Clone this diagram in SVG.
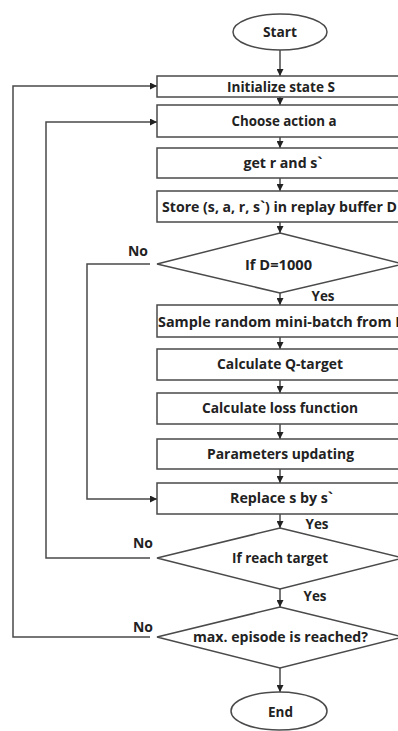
<svg xmlns="http://www.w3.org/2000/svg" width="398" height="731" viewBox="0 0 398 731">
<style>
.s{fill:#fff;stroke:#4a4a4a;stroke-width:1.5}
.t{font-family:"Open Sans","Liberation Sans",sans-serif;font-weight:700;font-size:13.5px;fill:#222;text-anchor:middle;dominant-baseline:central}
.l{font-family:"Open Sans","Liberation Sans",sans-serif;font-weight:700;font-size:13.5px;fill:#222;text-anchor:middle;dominant-baseline:central}
.c{fill:none;stroke:#4a4a4a;stroke-width:1.5}
</style>
<defs>
<marker id="a" viewBox="0 0 8 8" refX="8" refY="4" markerWidth="7" markerHeight="7" markerUnits="userSpaceOnUse" orient="auto">
<path d="M0,0L8,4L0,8z" fill="#222"/>
</marker>
</defs>
<g id="connectors">
<path class="c" d="M280,50V76" marker-end="url(#a)"/>
<path class="c" d="M280,97V105" marker-end="url(#a)"/>
<path class="c" d="M280,137V148" marker-end="url(#a)"/>
<path class="c" d="M280,178V191" marker-end="url(#a)"/>
<path class="c" d="M280,222V233" marker-end="url(#a)"/>
<path class="c" d="M280,293V305" marker-end="url(#a)"/>
<path class="c" d="M280,337V349" marker-end="url(#a)"/>
<path class="c" d="M280,380V393" marker-end="url(#a)"/>
<path class="c" d="M280,424V439" marker-end="url(#a)"/>
<path class="c" d="M280,469V483" marker-end="url(#a)"/>
<path class="c" d="M280,514V528" marker-end="url(#a)"/>
<path class="c" d="M280,589V607" marker-end="url(#a)"/>
<path class="c" d="M280,668V692" marker-end="url(#a)"/>
<path class="c" d="M150,264H87V499H157" marker-end="url(#a)"/>
<path class="c" d="M150,558H46V122H157" marker-end="url(#a)"/>
<path class="c" d="M150,637H13V86H157" marker-end="url(#a)"/>
<text class="l" x="138" y="251" textLength="20" lengthAdjust="spacingAndGlyphs">No</text>
<text class="l" x="323" y="296" textLength="23" lengthAdjust="spacingAndGlyphs">Yes</text>
<text class="l" x="317" y="524" textLength="23" lengthAdjust="spacingAndGlyphs">Yes</text>
<text class="l" x="143" y="543" textLength="20" lengthAdjust="spacingAndGlyphs">No</text>
<text class="l" x="315" y="596" textLength="23" lengthAdjust="spacingAndGlyphs">Yes</text>
<text class="l" x="143" y="627" textLength="20" lengthAdjust="spacingAndGlyphs">No</text>
</g>
<g id="start"><ellipse class="s" cx="280" cy="32" rx="47" ry="18"/><text class="t" x="280" y="32" textLength="34" lengthAdjust="spacingAndGlyphs">Start</text></g>
<g id="init"><rect class="s" x="157" y="76" width="250" height="21"/><text class="t" x="281" y="86.5" textLength="108" lengthAdjust="spacingAndGlyphs">Initialize state S</text></g>
<g id="choose"><rect class="s" x="157" y="105" width="250" height="32"/><text class="t" x="284" y="121" textLength="105" lengthAdjust="spacingAndGlyphs">Choose action a</text></g>
<g id="get"><rect class="s" x="157" y="148" width="250" height="30"/><text class="t" x="283" y="163" textLength="79" lengthAdjust="spacingAndGlyphs">get r and s`</text></g>
<g id="store"><rect class="s" x="157" y="191" width="250" height="31"/><text class="t" x="279.5" y="206.5" textLength="235" lengthAdjust="spacingAndGlyphs">Store (s, a, r, s`) in replay buffer D</text></g>
<g id="ifD"><polygon class="s" points="280,233 403,264 280,293 157,264"/><text class="t" x="278.5" y="265" textLength="67" lengthAdjust="spacingAndGlyphs">If D=1000</text></g>
<g id="sample"><rect class="s" x="157" y="305" width="250" height="32"/><text class="t" x="282" y="321.5" textLength="248" lengthAdjust="spacingAndGlyphs">Sample random mini-batch from D</text></g>
<g id="qtarget"><rect class="s" x="157" y="349" width="250" height="31"/><text class="t" x="280" y="364" textLength="126" lengthAdjust="spacingAndGlyphs">Calculate Q-target</text></g>
<g id="loss"><rect class="s" x="157" y="393" width="250" height="31"/><text class="t" x="280" y="408" textLength="156" lengthAdjust="spacingAndGlyphs">Calculate loss function</text></g>
<g id="params"><rect class="s" x="157" y="439" width="250" height="30"/><text class="t" x="280.5" y="453.5" textLength="147" lengthAdjust="spacingAndGlyphs">Parameters updating</text></g>
<g id="replace"><rect class="s" x="157" y="483" width="250" height="31"/><text class="t" x="281.5" y="498" textLength="103" lengthAdjust="spacingAndGlyphs">Replace s by s`</text></g>
<g id="reach"><polygon class="s" points="280,528 403,558 280,589 157,558"/><text class="t" x="280" y="558" textLength="96" lengthAdjust="spacingAndGlyphs">If reach target</text></g>
<g id="maxep"><polygon class="s" points="280,607 403,637 280,668 157,637"/><text class="t" x="280.5" y="637" textLength="175" lengthAdjust="spacingAndGlyphs">max. episode is reached?</text></g>
<g id="end"><ellipse class="s" cx="279" cy="711" rx="48" ry="19"/><text class="t" x="280.5" y="711.5" textLength="25" lengthAdjust="spacingAndGlyphs">End</text></g>
</svg>
